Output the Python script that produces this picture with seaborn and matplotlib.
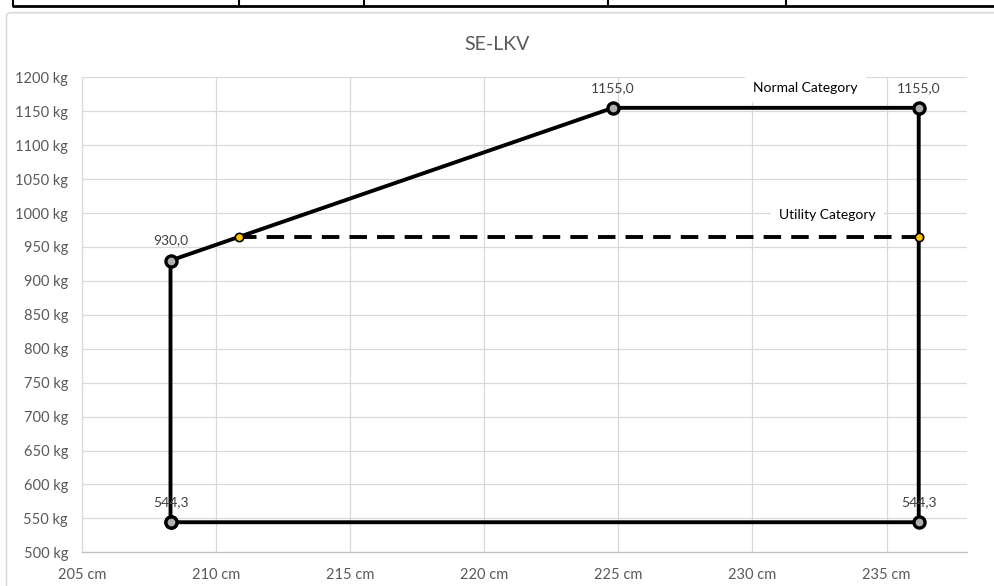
import numpy as np
import pandas as pd
import matplotlib
matplotlib.use("Agg")
import matplotlib.pyplot as plt
import seaborn as sns
from matplotlib.lines import Line2D
from matplotlib.patches import FancyBboxPatch
from matplotlib.ticker import FuncFormatter

# envelope corners (arm cm, weight kg), closed polygon
env_arm = [208.3, 208.3, 224.8, 236.2, 236.2, 208.3]
env_weight = [544.3, 930.0, 1155.0, 1155.0, 544.3, 544.3]

# utility category limit
util_arm = [210.85, 236.2]
util_weight = [965.0, 965.0]

# data labels shown on the chart
label_arm = [208.3, 208.3, 224.8, 236.2, 236.2]
label_weight = [544.3, 930.0, 1155.0, 1155.0, 544.3]

title = "SE-LKV"
x_ticks = [205, 210, 215, 220, 225, 230, 235]
y_ticks = list(range(500, 1201, 50))

sns.set_theme(style="white")
plt.rcParams['font.family'] = ['Lato', 'DejaVu Sans']

grey_txt = '#595959'
grid_col = '#d9d9d9'

fig = plt.figure(figsize=(9.95, 5.86), dpi=100)
ax = fig.add_axes([82 / 995, (586 - 552.3) / 586, 885 / 995, 475 / 586])

env = pd.DataFrame({'arm': env_arm, 'weight': env_weight})
sns.lineplot(data=env, x='arm', y='weight', sort=False, estimator=None,
             color='black', lw=2.8, marker='o', markersize=8,
             markerfacecolor='#b0b0b0', markeredgecolor='black',
             markeredgewidth=2.4, ax=ax, zorder=4)

sns.lineplot(x=util_arm, y=util_weight, sort=False, estimator=None,
             color='black', lw=2.8, linestyle=(0, (4.5, 2.6)), ax=ax, zorder=3)
ax.plot(util_arm, util_weight, ls='none', marker='o', markersize=6,
        markerfacecolor='#FFC000', markeredgecolor='black',
        markeredgewidth=1.2, zorder=5)

for a, w in zip(label_arm, label_weight):
    ax.annotate(f"{w:.1f}".replace('.', ','), (a, w), xytext=(0, 14.4),
                textcoords='offset points', ha='center', va='center',
                fontsize=10, color='#404040', zorder=6)

box = dict(facecolor='white', edgecolor='none', boxstyle='square,pad=0.6')
ax.text(231.97, 1184, "Normal Category", ha='center', va='center',
        fontsize=10, color='black', bbox=box, zorder=2, clip_on=False)
ax.text(232.8, 997, "Utility Category", ha='center', va='center',
        fontsize=10, color='black', bbox=box, zorder=2)

ax.set_xlim(205, 238)
ax.set_ylim(500, 1200)
ax.set_xticks(x_ticks)
ax.set_yticks(y_ticks)
ax.xaxis.set_major_formatter(FuncFormatter(lambda v, p: f"{v:.0f} cm"))
ax.yaxis.set_major_formatter(FuncFormatter(lambda v, p: f"{v:.0f} kg"))
ax.tick_params(length=0, labelsize=10.5, labelcolor=grey_txt)
ax.tick_params(axis='y', pad=10)
ax.tick_params(axis='x', pad=11)
ax.grid(True, color=grid_col, lw=0.9, zorder=0)
ax.set_axisbelow(True)
ax.set_xlabel('')
ax.set_ylabel('')
for s in ['top', 'right']:
    ax.spines[s].set_visible(False)
ax.spines['left'].set_color(grid_col)
ax.spines['bottom'].set_color('#bfbfbf')
ax.spines['left'].set_linewidth(0.9)
ax.spines['bottom'].set_linewidth(0.9)

fig.text(0.5, 1 - 45 / 586, title, ha='center', va='center',
         fontsize=14, color=grey_txt)

# chart frame
fig.add_artist(FancyBboxPatch((6.5 / 995, -0.05), 1.05, (586 - 12.7) / 586 + 0.05,
                              boxstyle='round,pad=0,rounding_size=0.005',
                              transform=fig.transFigure, facecolor='none',
                              edgecolor=grid_col, lw=1.2))

# bottom edge of the spreadsheet table above the chart
y_tab = 1 - 5.5 / 586
fig.add_artist(Line2D([13 / 995, 1], [y_tab, y_tab], transform=fig.transFigure,
                      color='black', lw=2))
for xp in [13, 239, 364, 608, 786]:
    fig.add_artist(Line2D([xp / 995, xp / 995], [y_tab, 1], transform=fig.transFigure,
                          color='black', lw=1.5))

fig.savefig('out.png', dpi=100)
